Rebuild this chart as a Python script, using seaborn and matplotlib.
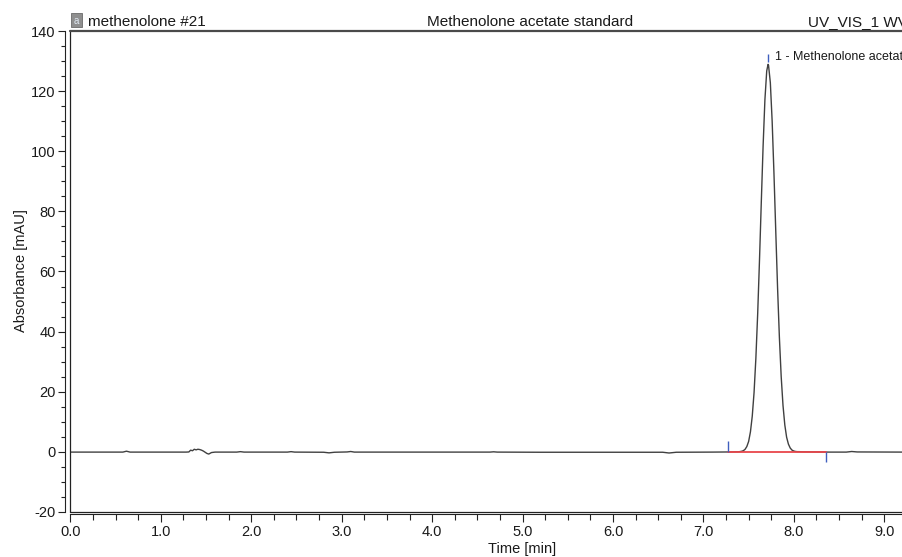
import matplotlib
matplotlib.use("Agg")
import matplotlib.pyplot as plt
import seaborn as sns
import pandas as pd
from matplotlib.ticker import MultipleLocator, FormatStrFormatter
from matplotlib.lines import Line2D
from matplotlib.patches import Rectangle

# ---- chromatogram data (UV_VIS_1 trace) ----
trace_time = [
    0.00, 0.58, 0.62, 0.66, 1.28, 1.31, 1.33, 1.35, 1.37, 1.39, 1.41, 1.43,
    1.45, 1.47, 1.49, 1.51, 1.53, 1.56, 1.60, 1.84, 1.88, 1.92, 2.40, 2.44,
    2.48, 2.80, 2.86, 2.92, 3.06, 3.10, 3.14, 3.60, 4.64, 4.68, 4.72, 5.20,
    6.55, 6.62, 6.70, 7.10, 7.30, 7.36,
    7.38, 7.40, 7.42, 7.44, 7.46, 7.48, 7.50, 7.52, 7.54, 7.56, 7.58, 7.60,
    7.62, 7.64, 7.66, 7.68, 7.70, 7.715, 7.72, 7.74, 7.76, 7.78, 7.80, 7.82,
    7.84, 7.86, 7.88, 7.90, 7.92, 7.94, 7.96, 7.98, 8.00, 8.02, 8.04,
    8.06, 8.10, 8.40, 8.58, 8.64, 8.70, 9.21,
]
trace_mau = [
    -0.15, -0.15, 0.15, -0.15, -0.15, -0.10, 0.50, 0.30, 0.80, 0.60, 0.80, 0.70,
    0.50, 0.20, -0.20, -0.60, -0.80, -0.30, -0.15, -0.15, 0.00, -0.15, -0.15, 0.00,
    -0.15, -0.20, -0.40, -0.20, -0.10, 0.05, -0.15, -0.15, -0.15, -0.05, -0.15, -0.20,
    -0.20, -0.45, -0.20, -0.15, -0.10, -0.05,
    -0.05, 0.00, 0.10, 0.30, 0.75, 1.70, 3.40, 6.60, 11.8, 19.7, 31.1, 45.9,
    63.7, 83.1, 101.8, 117.2, 126.8, 129.0, 128.7, 122.9, 110.1, 92.7, 73.4, 54.5,
    38.1, 25.0, 15.4, 8.9, 4.8, 2.5, 1.2, 0.5, 0.2, 0.05, 0.0,
    0.0, -0.05, -0.15, -0.15, 0.05, -0.10, -0.15,
]

# peak 1 and its integration limits
peak_name = "1 - Methenolone acetate"
peak_time = 7.715
peak_height = 129.0
integ_time = [7.27, 8.35]
integ_mau = [0.0, 0.0]

# header texts
sample_name = "methenolone #21"
run_title = "Methenolone acetate standard"
channel_name = "UV_VIS_1 WVL:240 nm"

x_label = "Time [min]"
y_label = "Absorbance [mAU]"

trace = pd.DataFrame({"time": trace_time, "mAU": trace_mau})

sns.set_style("white")
plt.rcParams["font.family"] = ["Liberation Sans", "DejaVu Sans"]
text_col = "#1a1a1a"
axis_col = "#222222"

W, H = 903, 557
fig = plt.figure(figsize=(W / 100, H / 100), dpi=100)
left_px, top_px, bottom_px = 70.4, 31.3, 511.7
ax = fig.add_axes([left_px / W, (H - bottom_px) / H,
                   1 - left_px / W, (bottom_px - top_px) / H])

sns.lineplot(data=trace, x="time", y="mAU", ax=ax, color="#404040",
             linewidth=1.0, sort=False, estimator=None)

# integration baseline and delimiters
sns.lineplot(x=integ_time, y=integ_mau, ax=ax, color="#e8464b",
             linewidth=1.3, estimator=None)
mark_col = "#3f5fbf"
ax.vlines(integ_time[0], integ_mau[0], integ_mau[0] + 3.4, color=mark_col, lw=1.0)
ax.vlines(integ_time[1], integ_mau[1] - 3.6, integ_mau[1], color=mark_col, lw=1.0)
ax.vlines(peak_time, peak_height + 0.8, peak_height + 3.6, color=mark_col, lw=1.0)
ax.annotate(peak_name, xy=(peak_time, peak_height), xytext=(4.8, 2.9),
            textcoords="offset points", fontsize=9, color=text_col,
            ha="left", va="baseline", annotation_clip=False)

ax.set_xlim(0, 9.207)
ax.set_ylim(-20, 140)

# offset axis lines with an inner plot frame
for side in ("top", "right"):
    ax.spines[side].set_visible(False)
ax.spines["left"].set_position(("outward", 4.1))
ax.spines["bottom"].set_position(("outward", 1.9))
for side in ("left", "bottom"):
    ax.spines[side].set_color(axis_col)
    ax.spines[side].set_linewidth(0.8)
ax.add_line(Line2D([0, 0], [0, 1], transform=ax.transAxes, color=axis_col,
                   lw=0.9, clip_on=False))
ax.add_line(Line2D([0, 1], [0, 0], transform=ax.transAxes, color=axis_col,
                   lw=0.9, clip_on=False))
ax.add_line(Line2D([0, 1], [1, 1], transform=ax.transAxes, color="#4a4a4a",
                   lw=1.6, clip_on=False))

ax.xaxis.set_major_locator(MultipleLocator(1.0))
ax.xaxis.set_minor_locator(MultipleLocator(0.25))
ax.xaxis.set_major_formatter(FormatStrFormatter("%.1f"))
ax.yaxis.set_major_locator(MultipleLocator(20))
ax.yaxis.set_minor_locator(MultipleLocator(5))
ax.yaxis.set_major_formatter(FormatStrFormatter("%d"))

ax.tick_params(axis="both", which="both", direction="out", color=axis_col,
               width=0.8, labelcolor=text_col, labelsize=10.5,
               bottom=True, left=True, top=False, right=False)
ax.tick_params(axis="y", which="major", length=5, pad=1.5)
ax.tick_params(axis="y", which="minor", length=3)
ax.tick_params(axis="x", which="major", length=6, pad=1.5)
ax.tick_params(axis="x", which="minor", length=4)

ax.set_xlabel(x_label, fontsize=10.5, color=text_col)
ax.set_ylabel(y_label, fontsize=10.5, color=text_col)
ax.xaxis.set_label_coords(0.5426, -0.063)
ax.yaxis.set_label_coords(-0.051, 0.501)

# header row
base_y = (H - 25.7) / H
fig.patches.append(Rectangle((71.5 / W, (H - 27.0) / H), 10.5 / W, 14.0 / H,
                             transform=fig.transFigure, facecolor="#8f8f8f",
                             edgecolor="#6a6a6a", lw=0.6))
fig.text(76.8 / W, (H - 24.5) / H, "a", fontsize=7, color="#dfe8f2",
         ha="center", va="baseline")
fig.text(88 / W, base_y, sample_name, fontsize=11, color=text_col,
         ha="left", va="baseline")
fig.text(530.5 / W, base_y, run_title, fontsize=11, color=text_col,
         ha="center", va="baseline")
fig.text(808 / W, base_y, channel_name, fontsize=11, color=text_col,
         ha="left", va="baseline")

fig.savefig("out.png", dpi=100)
